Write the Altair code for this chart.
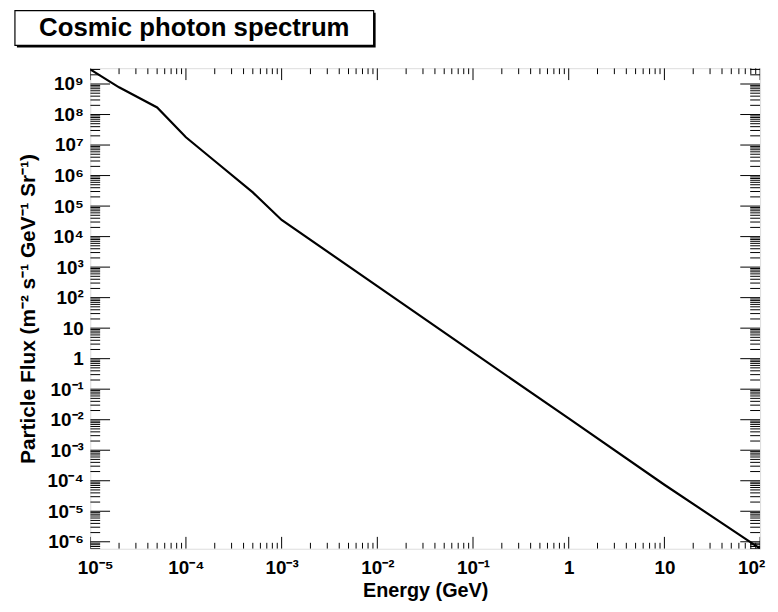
import json
import altair as alt
import pandas as pd

# ---- data ----
energy = [1e-5, 2e-5, 5e-5, 1e-4, 2e-4, 5e-4, 1e-3, 1e-2, 1e-1, 1, 10, 100]
flux = [3.0e9, 7.8e8, 1.7e8, 1.8e7, 3.0e6, 2.8e5, 3.5e4, 2.4e2, 1.6, 1.1e-2, 7.4e-5, 6.0e-7]

x_tick_values = [1e-5, 1e-4, 1e-3, 1e-2, 1e-1, 1, 10, 100]
x_tick_labels = ["10⁻⁵", "10⁻⁴", "10⁻³", "10⁻²", "10⁻¹", "1", "10", "10²"]
y_tick_values = [1e-6, 1e-5, 1e-4, 1e-3, 1e-2, 1e-1, 1, 10, 100, 1e3, 1e4, 1e5, 1e6, 1e7, 1e8, 1e9]
y_tick_labels = ["10⁻⁶", "10⁻⁵", "10⁻⁴", "10⁻³", "10⁻²", "10⁻¹", "1", "10",
                 "10²", "10³", "10⁴", "10⁵", "10⁶", "10⁷", "10⁸", "10⁹"]

x_domain = [1e-5, 100]
y_domain = [5.9e-7, 3.3e9]

title_text = "Cosmic photon spectrum"
x_title = "Energy (GeV)"
y_title = "Particle Flux (m⁻² s⁻¹ GeV⁻¹ Sr⁻¹)"

W, H = 676, 485
FONT = "Liberation Sans"

# minor tick positions (axis decoration)
x_minor = [k * 10.0 ** d for d in range(-5, 2) for k in range(2, 10)]
y_minor = [k * 10.0 ** d for d in range(-7, 10) for k in range(2, 10)
           if y_domain[0] <= k * 10.0 ** d <= y_domain[1]]

xscale = alt.Scale(type="log", domain=x_domain, nice=False)
yscale = alt.Scale(type="log", domain=y_domain, nice=False)

x_expr = json.dumps(x_tick_labels) + "[round(log(datum.value)/LN10)+5]"
y_expr = json.dumps(y_tick_labels) + "[round(log(datum.value)/LN10)+6]"

xaxis = alt.Axis(values=x_tick_values, labelExpr=x_expr, ticks=False, domain=False,
                 grid=False, labelFont=FONT, labelFontWeight="bold", labelFontSize=19,
                 labelColor="black", labelPadding=10, labelFlush=False, labelOverlap=False,
                 labelOffset={"condition": [{"test": "datum.value < 2e-5", "value": 5},
                                            {"test": "datum.value > 50", "value": -9}],
                              "value": 0},
                 title=x_title, titleFont=FONT, titleFontWeight="bold", titleFontSize=20,
                 titleColor="black", titlePadding=3)
yaxis = alt.Axis(values=y_tick_values, labelExpr=y_expr, ticks=False, domain=False,
                 grid=False, labelFont=FONT, labelFontWeight="bold", labelFontSize=19,
                 labelColor="black", labelPadding=7, labelFlush=False, labelOverlap=False,
                 title=y_title, titleFont=FONT, titleFontWeight="bold", titleFontSize=21,
                 titleColor="black", titlePadding=9)

x_enc = alt.X("E:Q", scale=xscale, axis=xaxis)
y_enc = alt.Y("F:Q", scale=yscale, axis=yaxis)

curve_df = pd.DataFrame({"E": energy, "F": flux})
line = alt.Chart(curve_df).mark_line(color="black", strokeWidth=2.2, clip=True).encode(
    x=x_enc, y=y_enc)

xmaj = pd.DataFrame({"E": x_tick_values})
xmin = pd.DataFrame({"E": x_minor})
ymaj = pd.DataFrame({"F": y_tick_values})
ymin = pd.DataFrame({"F": y_minor})

def xticks(df, length):
    bottom = alt.Chart(df).mark_rule(color="black", strokeWidth=1, clip=True).encode(
        x=x_enc, y=alt.value(H), y2=alt.value(H - length))
    top = alt.Chart(df).mark_rule(color="black", strokeWidth=1, clip=True).encode(
        x=x_enc, y=alt.value(0), y2=alt.value(length))
    return [bottom, top]

def yticks(df, length):
    left = alt.Chart(df).mark_rule(color="black", strokeWidth=1, clip=True).encode(
        y=y_enc, x=alt.value(0), x2=alt.value(length))
    right = alt.Chart(df).mark_rule(color="black", strokeWidth=1, clip=True).encode(
        y=y_enc, x=alt.value(W), x2=alt.value(W - length))
    return [left, right]

one = pd.DataFrame({"a": [0]})
box_shadow = alt.Chart(one).mark_rect(fill="black").encode(
    x=alt.value(-74), x2=alt.value(288), y=alt.value(-56), y2=alt.value(-21))
box = alt.Chart(one).mark_rect(fill="white", stroke="black", strokeWidth=1.2).encode(
    x=alt.value(-76), x2=alt.value(286), y=alt.value(-58), y2=alt.value(-23))
title = alt.Chart(one).mark_text(font=FONT, fontWeight="bold", fontSize=26,
                                 color="black", align="center", baseline="middle").encode(
    x=alt.value(105), y=alt.value(-40), text=alt.value(title_text))

layers = ([line] + xticks(xmaj, 12) + xticks(xmin, 6) + yticks(ymaj, 20) + yticks(ymin, 10)
          + [box_shadow, box, title])

chart = alt.layer(*layers).properties(
    width=W, height=H,
    autosize=alt.AutoSizeParams(type="none"),
    padding={"left": 83, "top": 58, "right": 10, "bottom": 53},
).configure_view(stroke="black", strokeWidth=2).configure(background="white")

chart.save("out.html", embed_options={"renderer": "svg", "actions": False})
